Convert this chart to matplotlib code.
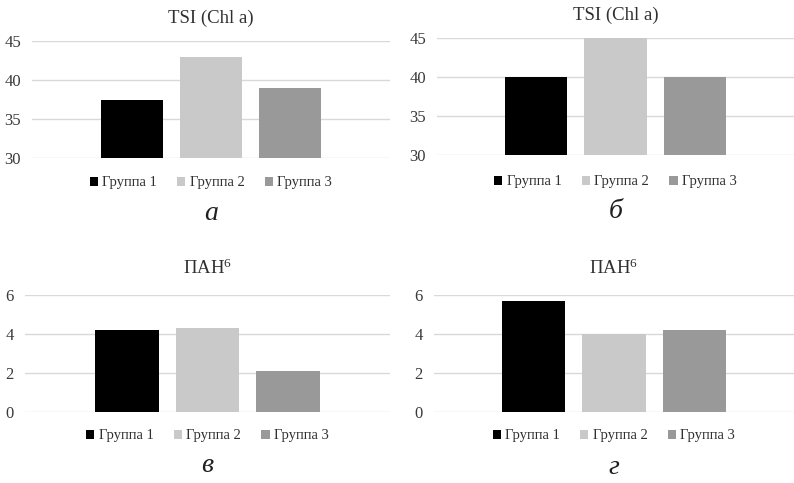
import matplotlib.pyplot as plt
from matplotlib.patches import Patch

plt.rcParams['font.family'] = ['Liberation Serif', 'DejaVu Serif']
plt.rcParams['mathtext.default'] = 'regular'

groups = ['Группа 1', 'Группа 2', 'Группа 3']
colors = ['#000000', '#c9c9c9', '#999999']

tsi_a = [37.5, 43.0, 39.0]
tsi_b = [40.0, 45.0, 40.0]
pah_c = [4.2, 4.3, 2.1]
pah_d = [5.7, 4.0, 4.2]

W, H = 794, 483
fig = plt.figure(figsize=(W / 100, H / 100), dpi=100)

# panel boxes in pixels: left, right, top, bottom (gridline extents), bar spacing, letter y
panels = [
    (32, 390, 41, 158, 79, tsi_a, 'TSI (Chl a)', (30, 45), [30, 35, 40, 45], 'а', 182, 213),
    (437, 794, 38, 155, 79.5, tsi_b, 'TSI (Chl a)', (30, 45), [30, 35, 40, 45], 'б', 181, 212),
    (25, 390, 295, 412, 80.5, pah_c, 'ПАН$^{6}$', (0, 6), [0, 2, 4, 6], 'в', 435, 465),
    (434, 794, 295, 412, 80.5, pah_d, 'ПАН$^{6}$', (0, 6), [0, 2, 4, 6], 'г', 435, 467),
]

for left, right, top, bottom, sp, vals, title, ylim, ticks, letter, leg_y, let_y in panels:
    ax = fig.add_axes([left / W, 1 - bottom / H, (right - left) / W, (bottom - top) / H])
    half = (right - left) / (2 * sp)
    ax.bar([-1, 0, 1], vals, width=0.785, color=colors, zorder=3)
    ax.set_xlim(-half, half)
    ax.set_ylim(*ylim)
    ax.set_yticks(ticks)
    ax.set_xticks([])
    ax.grid(axis='y', color='#d9d9d9', linewidth=1, zorder=0)
    for s in ax.spines.values():
        s.set_visible(False)
    ax.tick_params(axis='y', length=0, labelsize=12, labelcolor='#3a3a3a', pad=8)
    cx = (left + right) / 2 / W
    if title.startswith('TSI'):
        ty = top - 23
    else:
        ty = top - 27
    fig.text(cx, 1 - ty / H, title, ha='center', va='center', fontsize=13.5, color='#303030')
    handles = [Patch(facecolor=c, label=g) for c, g in zip(colors, groups)]
    fig.legend(handles=handles, loc='center', bbox_to_anchor=(cx, 1 - (leg_y + 1) / H), ncol=3,
               frameon=False, fontsize=10.5, handlelength=0.55, handleheight=0.55,
               handletextpad=0.3, columnspacing=1.4, labelcolor='#303030')
    fig.text(cx, 1 - let_y / H, letter, ha='center', va='center', fontsize=20,
             style='italic', color='#202020')

fig.savefig('out.png', dpi=100)
